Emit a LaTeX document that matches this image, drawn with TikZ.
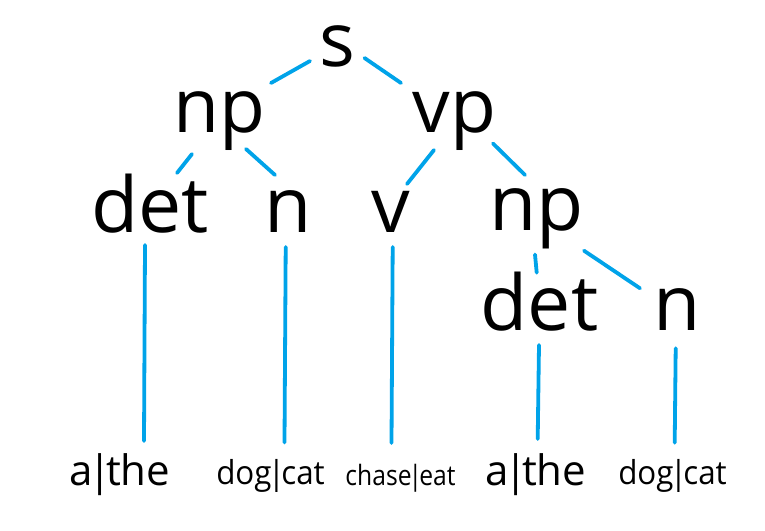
\documentclass[tikz,border=0pt]{standalone}
\usepackage{fontspec}
\setmainfont{Open Sans}
\usetikzlibrary{calc}
\definecolor{edgeblue}{RGB}{0,163,233}
\newcommand{\vbar}{\kern-0.12em|\kern-0.12em}
\tikzset{
  cat/.style={inner sep=0pt, anchor=base, font=\fontsize{75}{80}\selectfont},
  catbig/.style={inner sep=0pt, anchor=base, font=\fontsize{77}{82}\selectfont},
  word/.style={inner sep=0pt, anchor=base, font=\fontsize{42}{46}\selectfont},
  wordmid/.style={inner sep=0pt, anchor=base, font=\fontsize{33}{36}\selectfont},
  wordsmall/.style={inner sep=0pt, anchor=base, font=\fontsize{28}{30}\selectfont},
  edge/.style={draw=edgeblue, line width=3.8pt, line cap=round}
}
\begin{document}
\begin{tikzpicture}[x=1pt, y=-1pt]
\useasboundingbox (0,0) rectangle (765,530);
% categories
\node[cat] (s) at (337.5,66) {s};
\node[cat] (np) at (219,132) {np};
\node[cat] (vp) at (454.5,132) {vp};
\node[catbig] (detL) at (150,232) {det};
\node[catbig] (nL) at (288,232) {n};
\node[catbig] (v) at (390.5,232) {v};
\node[catbig] (npR) at (536.5,230) {np};
\node[catbig] (detR) at (539.5,330) {det};
\node[catbig] (nR) at (677.5,330) {n};
% words
\node[word] (athe1) at (120,485) {a\vbar the};
\node[wordmid] (dog1) at (270.5,484) {\scalebox{0.95}[1]{dog\vbar cat}};
\node[wordsmall] (chase) at (400.5,485) {\scalebox{0.88}[1]{chase\vbar eat}};
\node[word] (athe2) at (536,485) {a\vbar the};
\node[wordmid] (dog2) at (672.5,484) {\scalebox{0.95}[1]{dog\vbar cat}};
% connectors
\draw[edge] ([shift={(-27.5,-5)}]s.base) -- ([shift={(52,-49)}]np.base);
\draw[edge] ([shift={(27,-8)}]s.base) -- ([shift={(-53.5,-49)}]vp.base);
\draw[edge] ([shift={(-27,22)}]np.base) -- ([shift={(27,-59)}]detL.base);
\draw[edge] ([shift={(27,17)}]np.base) -- ([shift={(-13,-57)}]nL.base);
\draw[edge] ([shift={(-20.5,18)}]vp.base) -- ([shift={(16.5,-48)}]v.base);
\draw[edge] ([shift={(38.5,11.5)}]vp.base) -- ([shift={(-11.5,-55)}]npR.base);
\draw[edge] ([shift={(-1.5,24.5)}]npR.base) -- ([shift={(-2.8,-57.3)}]detR.base);
\draw[edge] ([shift={(47.5,20.7)}]npR.base) -- ([shift={(-37.5,-41.7)}]nR.base);
\draw[edge] ([shift={(-5,13)}]detL.base) -- ([shift={(24,-44)}]athe1.base);
\draw[edge] ([shift={(-2.3,15)}]nL.base) -- ([shift={(14,-41.5)}]dog1.base);
\draw[edge] ([shift={(2.2,15)}]v.base) -- ([shift={(-9,-42)}]chase.base);
\draw[edge] ([shift={(-0.5,15)}]detR.base) -- ([shift={(1.7,-46)}]athe2.base);
\draw[edge] ([shift={(-1.8,18.3)}]nR.base) -- ([shift={(2.2,-41.3)}]dog2.base);
\end{tikzpicture}
\end{document}
